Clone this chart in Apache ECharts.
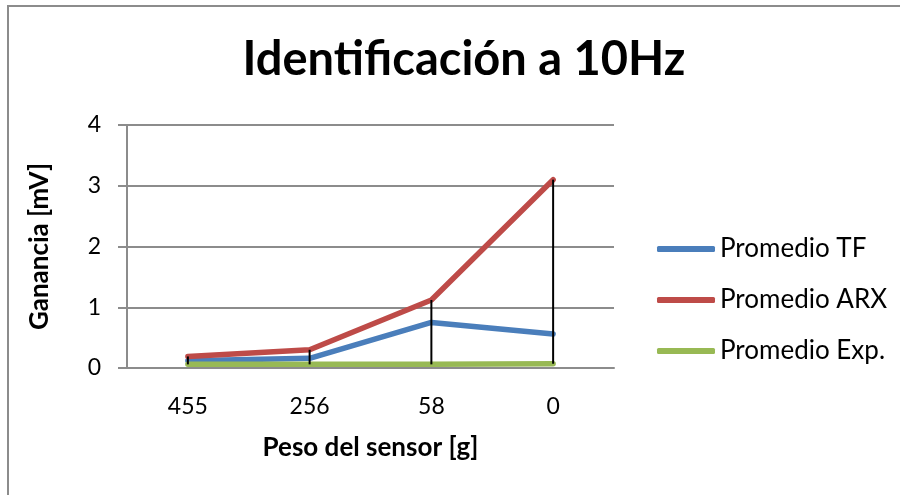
<!DOCTYPE html>
<html>
<head>
<meta charset="utf-8">
<script src="https://cdn.jsdelivr.net/npm/echarts@6/dist/echarts.min.js"></script>
<style>
  html, body { margin: 0; padding: 0; background: #ffffff; }
  #chart { width: 900px; height: 495px; }
</style>
</head>
<body>
<div id="chart"></div>
<script>
// Sensor weight categories [g]
const categories = ['455', '256', '58', '0'];

// Average gain per identification method [mV]
const promedioTF  = [0.12, 0.16, 0.75, 0.56];
const promedioARX = [0.19, 0.30, 1.12, 3.10];
const promedioExp = [0.06, 0.06, 0.06, 0.07];

const yTicks = { min: 0, max: 4, interval: 1 };

const FONT = 'Lato';
const GRID_GRAY = '#8c8c8c';

const allSeries = [promedioTF, promedioARX, promedioExp];

// High-low connector: vertical line between the lowest and highest value per category
const hiLo = categories.map((c, i) => {
  const vals = allSeries.map(s => s[i]);
  return [i, Math.min.apply(null, vals), Math.max.apply(null, vals)];
});

const chart = echarts.init(document.getElementById('chart'), null, { renderer: 'canvas' });

chart.setOption({
  backgroundColor: '#ffffff',
  animation: false,
  textStyle: { fontFamily: FONT },
  title: {
    text: 'Identificación a 10Hz',
    left: 459,
    textAlign: 'center',
    top: 31,
    textStyle: { fontFamily: FONT, fontWeight: 'bold', fontSize: 47, color: '#000000' }
  },
  graphic: [{
    type: 'rect',
    silent: true,
    shape: { x: 8, y: 6, width: 900, height: 500 },
    style: { fill: 'none', stroke: GRID_GRAY, lineWidth: 2 }
  }],
  legend: {
    orient: 'vertical',
    left: 652,
    top: 231,
    itemWidth: 58,
    itemHeight: 6,
    itemGap: 25,
    icon: 'roundRect',
    textStyle: { fontFamily: FONT, fontSize: 26, color: '#000000', lineHeight: 26 },
    data: ['Promedio TF', 'Promedio ARX', 'Promedio Exp.']
  },
  grid: { left: 127, right: 286, top: 125, bottom: 127, containLabel: false },
  xAxis: {
    type: 'category',
    data: categories,
    boundaryGap: true,
    name: 'Peso del sensor [g]',
    nameLocation: 'middle',
    nameGap: 67,
    nameTextStyle: { fontFamily: FONT, fontWeight: 'bold', fontSize: 26, color: '#000000' },
    axisLine: { show: true, lineStyle: { color: GRID_GRAY, width: 2 } },
    axisTick: { show: false },
    axisLabel: { margin: 27, fontSize: 23, color: '#000000', fontFamily: FONT }
  },
  yAxis: {
    type: 'value',
    min: yTicks.min,
    max: yTicks.max,
    interval: yTicks.interval,
    name: 'Ganancia [mV]',
    nameLocation: 'middle',
    nameGap: 74,
    nameRotate: 90,
    nameTextStyle: { fontFamily: FONT, fontWeight: 'bold', fontSize: 26, color: '#000000' },
    axisLine: { show: true, lineStyle: { color: GRID_GRAY, width: 2 } },
    axisTick: { show: true, length: 9, inside: false, lineStyle: { color: GRID_GRAY, width: 2 } },
    axisLabel: { margin: 26, fontSize: 23, color: '#000000', fontFamily: FONT },
    splitLine: { show: true, lineStyle: { color: GRID_GRAY, width: 2 } }
  },
  series: [
    {
      name: 'Promedio TF', type: 'line', data: promedioTF,
      symbol: 'none', color: '#4a7ebb',
      lineStyle: { width: 5.5, color: '#4a7ebb', cap: 'round', join: 'round' }, z: 3
    },
    {
      name: 'Promedio ARX', type: 'line', data: promedioARX,
      symbol: 'none', color: '#be4b48',
      lineStyle: { width: 5.5, color: '#be4b48', cap: 'round', join: 'round' }, z: 3
    },
    {
      name: 'Promedio Exp.', type: 'line', data: promedioExp,
      symbol: 'none', color: '#98b954',
      lineStyle: { width: 5.5, color: '#98b954', cap: 'round', join: 'round' }, z: 3
    },
    {
      name: 'hiLo', type: 'custom', data: hiLo, z: 4, silent: true,
      renderItem: function (params, api) {
        const top = api.coord([api.value(0), api.value(2)]);
        const bot = api.coord([api.value(0), api.value(1)]);
        return {
          type: 'line',
          shape: { x1: top[0], y1: top[1], x2: bot[0], y2: bot[1] },
          style: { stroke: '#000000', lineWidth: 2 }
        };
      }
    }
  ]
});
</script>
</body>
</html>
